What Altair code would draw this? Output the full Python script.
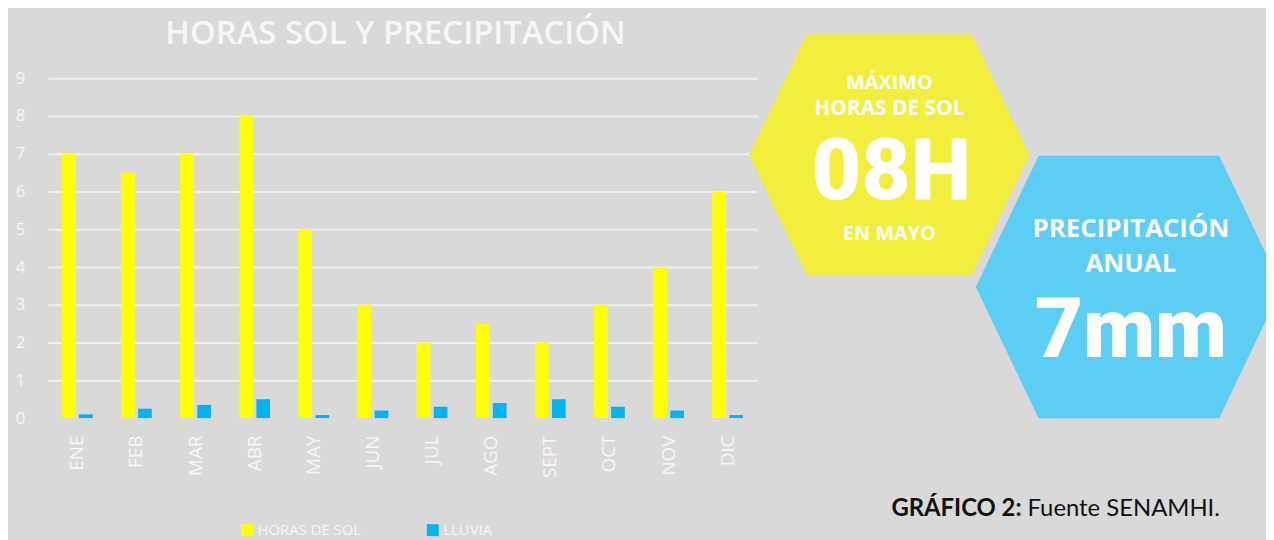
import altair as alt
import pandas as pd

# ---- data ----
meses = ["ENE", "FEB", "MAR", "ABR", "MAY", "JUN", "JUL", "AGO", "SEPT", "OCT", "NOV", "DIC"]
horas_sol = [7, 6.5, 7, 8, 5, 3, 2, 2.5, 2, 3, 4, 6]
lluvia = [0.1, 0.25, 0.35, 0.5, 0.08, 0.2, 0.3, 0.4, 0.5, 0.3, 0.2, 0.08]
series = ["HORAS DE SOL", "LLUVIA"]
y_ticks = list(range(0, 10))

titulo = "HORAS SOL Y PRECIPITACIÓN"
hex_sol = ["MÁXIMO", "HORAS DE SOL", "08H", "EN MAYO"]
hex_lluvia = ["PRECIPITACIÓN", "ANUAL", "7mm"]
fuente_bold = "GRÁFICO 2:"
fuente_reg = "Fuente SENAMHI."

# ---- styles ----
BG = "#d9d9d9"
WHITE = "#f6f6f6"
colores = ["#ffff00", "#00b4f0"]
HEX = "M-1,0L-0.59,-0.858L0.59,-0.858L1,0L0.59,0.858L-0.59,0.858Z"
SANS = "Open Sans"
BIG = "Roboto"

df = pd.DataFrame({
    "mes": meses * 2,
    "serie": [series[0]] * len(meses) + [series[1]] * len(meses),
    "valor": horas_sol + lluvia,
})

bars = alt.Chart(df).mark_bar().encode(
    x=alt.X(
        "mes:N", sort=meses,
        scale=alt.Scale(paddingInner=0.48, paddingOuter=0.24),
        axis=alt.Axis(title=None, labelAngle=270, labelColor=WHITE, labelFontSize=19,
                      labelFont=SANS, labelPadding=17, ticks=False, tickSize=0,
                      domain=False, grid=False),
    ),
    xOffset=alt.XOffset("serie:N", sort=series, scale=alt.Scale(paddingInner=0.2)),
    y=alt.Y(
        "valor:Q",
        scale=alt.Scale(domain=[0, 9], nice=False),
        axis=alt.Axis(title=None, values=y_ticks, labelColor=WHITE, labelFontSize=17,
                      labelFont=SANS, labelPadding=23, ticks=False, tickSize=0,
                      domain=False, grid=True, gridColor="#efefef", gridWidth=2,
                      gridOpacity={"condition": {"test": "datum.value === 0", "value": 0}, "value": 1}),
    ),
    color=alt.Color(
        "serie:N",
        scale=alt.Scale(domain=series, range=colores),
        legend=alt.Legend(title=None, orient="none", legendX=193, legendY=447,
                          direction="horizontal", symbolType="square", symbolSize=144,
                          symbolStrokeWidth=0, symbolOpacity=1, labelFontSize=15,
                          labelColor=WHITE, labelFont=SANS, labelOffset=3,
                          columnPadding=64),
    ),
)


def texto(t, x, y, size, font=SANS, weight="bold", color="white", align="center"):
    return alt.Chart(pd.DataFrame({"t": [t]})).mark_text(
        align=align, baseline="alphabetic", fontSize=size, font=font,
        fontWeight=weight, color=color,
    ).encode(text="t:N", x=alt.value(x), y=alt.value(y))


def hexagono(color, x, y, ancho):
    return alt.Chart(pd.DataFrame({"k": [color]})).mark_point(
        shape=HEX, filled=True, opacity=1, color=color, strokeWidth=0,
    ).encode(x=alt.value(x), y=alt.value(y), size=alt.value(ancho * ancho))


layers = [
    hexagono("#f2ee3c", 847, 77, 282),
    hexagono("#5ccdf3", 1088, 210, 308),
    texto(hex_sol[0], 847, 11, 20),
    texto(hex_sol[1], 847, 37, 21),
    texto(hex_sol[2], 849, 122, 86, font=BIG, weight=900),
    texto(hex_sol[3], 847, 163, 20),
    texto(hex_lluvia[0], 1090, 160, 26),
    texto(hex_lluvia[1], 1090, 195, 26),
    texto(hex_lluvia[2], 1090, 281, 84, font=BIG, weight=900),
    texto(titulo, 350, -34, 33, weight=600, color=WHITE),
    texto(fuente_bold, 980, 441, 24, font="Lato", weight="bold", color="#111111", align="right"),
    texto(fuente_reg, 986, 441, 24, font="Lato", weight="normal", color="#111111", align="left"),
    bars,
]

chart = alt.layer(*layers).properties(
    width=714, height=342,
    autosize=alt.AutoSizeParams(type="none"),
    padding={"left": 40, "top": 69, "right": 512, "bottom": 129},
    background=BG,
).configure_view(stroke=None)

chart.save("out.html", embed_options={"renderer": "svg", "actions": False})
